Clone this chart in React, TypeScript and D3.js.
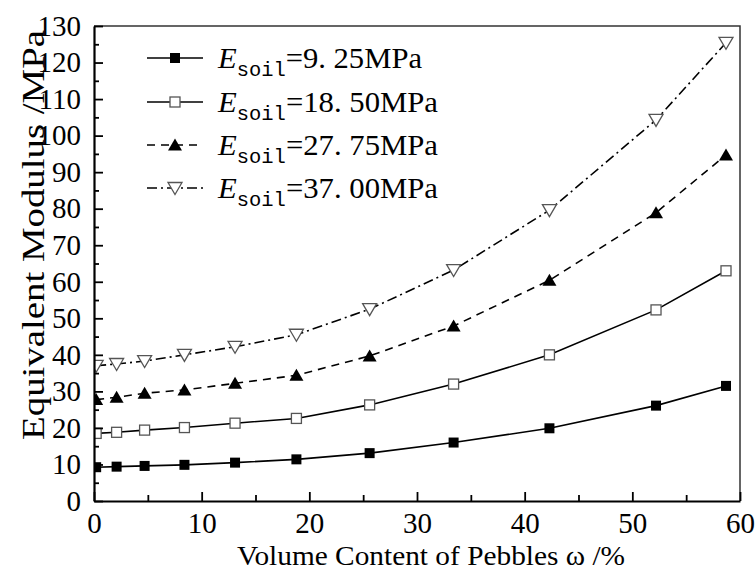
import React, { useRef, useEffect } from "react";
import * as d3 from "d3";

// volume content of pebbles (%)
const omega = [0.2, 2.1, 4.7, 8.4, 13.1, 18.8, 25.6, 33.4, 42.3, 52.2, 58.7];
// equivalent modulus (MPa) per soil modulus
const e925 = [9.25, 9.4, 9.6, 9.9, 10.5, 11.4, 13.1, 16.0, 19.9, 26.1, 31.5];
const e1850 = [18.5, 18.8, 19.4, 20.1, 21.3, 22.6, 26.3, 32.0, 40.0, 52.3, 63.0];
const e2775 = [27.75, 28.4, 29.5, 30.4, 32.2, 34.4, 39.7, 47.9, 60.4, 78.9, 94.7];
const e3700 = [37.0, 37.5, 38.3, 40.0, 42.2, 45.5, 52.5, 63.2, 79.6, 104.3, 125.4];

const legendLabels = ["=9. 25MPa", "=18. 50MPa", "=27. 75MPa", "=37. 00MPa"];
const xTicks = [0, 10, 20, 30, 40, 50, 60];
const yTicks = d3.range(0, 131, 10);

const series = [
  { values: e925, marker: "squareFilled", dash: null },
  { values: e1850, marker: "squareOpen", dash: null },
  { values: e2775, marker: "triUp", dash: "8,6" },
  { values: e3700, marker: "triDown", dash: "10,4,2,4" },
];

const FONT = "Liberation Serif, DejaVu Serif, serif";
const MONO = "Liberation Mono, DejaVu Sans Mono, monospace";

function drawMarker(g, kind, x, y) {
  if (kind === "squareFilled") {
    g.append("rect").attr("x", x - 5).attr("y", y - 5).attr("width", 10).attr("height", 10).attr("fill", "#000");
  } else if (kind === "squareOpen") {
    g.append("rect").attr("x", x - 5).attr("y", y - 5).attr("width", 10).attr("height", 10)
      .attr("fill", "#fff").attr("stroke", "#555").attr("stroke-width", 1.3);
  } else if (kind === "triUp") {
    g.append("path").attr("d", `M${x},${y - 6.5}L${x + 7},${y + 5.5}L${x - 7},${y + 5.5}Z`).attr("fill", "#000");
  } else {
    g.append("path").attr("d", `M${x - 7},${y - 5.5}L${x + 7},${y - 5.5}L${x},${y + 6.5}Z`)
      .attr("fill", "#fff").attr("stroke", "#555").attr("stroke-width", 1.3);
  }
}

const App = () => {
  const svgRef = useRef();

  useEffect(() => {
    document.body.style.margin = "0";
    const svg = d3.select(svgRef.current);
    svg.selectAll("*").remove();

    const left = 94, right = 740, top = 26, bottom = 501;
    const x = d3.scaleLinear().domain([0, 60]).range([left, right]);
    const y = d3.scaleLinear().domain([0, 130]).range([bottom, top]);

    svg.append("rect").attr("width", 756).attr("height", 572).attr("fill", "#fff");

    svg.append("defs").append("clipPath").attr("id", "plot")
      .append("rect").attr("x", left).attr("y", top).attr("width", right - left).attr("height", bottom - top);

    const plot = svg.append("g").attr("clip-path", "url(#plot)");
    const line = d3.line().x((d) => x(d[0])).y((d) => y(d[1]));

    series.forEach((s) => {
      const pts = omega.map((w, i) => [w, s.values[i]]);
      plot.append("path").attr("d", line(pts)).attr("fill", "none").attr("stroke", "#000")
        .attr("stroke-width", 1.6).attr("stroke-dasharray", s.dash);
      pts.forEach((p) => drawMarker(plot, s.marker, x(p[0]), y(p[1])));
    });

    // frame
    svg.append("path").attr("d", `M${left},${top}H${right}V${bottom}`).attr("fill", "none")
      .attr("stroke", "#333").attr("stroke-width", 1.5);

    // minor ticks
    svg.append("g").attr("transform", `translate(${left},0)`)
      .call(d3.axisLeft(y).tickValues(d3.range(5, 130, 10)).tickSize(-5).tickFormat(() => ""))
      .call((g) => g.select(".domain").remove());
    svg.append("g").attr("transform", `translate(0,${bottom})`)
      .call(d3.axisBottom(x).tickValues(d3.range(5, 60, 10)).tickSize(-6).tickFormat(() => ""))
      .call((g) => g.select(".domain").remove());

    const yAxis = svg.append("g").attr("transform", `translate(${left},0)`)
      .call(d3.axisLeft(y).tickValues(yTicks).tickSize(-9).tickSizeOuter(0).tickPadding(13));
    const xAxis = svg.append("g").attr("transform", `translate(0,${bottom})`)
      .call(d3.axisBottom(x).tickValues(xTicks).tickSize(-9).tickSizeOuter(0).tickPadding(11));

    [yAxis, xAxis].forEach((a) => {
      a.attr("font-family", null).attr("font-size", null);
      a.select(".domain").attr("stroke-width", 2.2);
      a.selectAll("text").style("font-family", FONT).style("font-size", "29px").attr("fill", "#000");
    });
    svg.selectAll(".tick line").attr("stroke-width", 1.8);

    // axis titles
    svg.append("text").attr("x", 431).attr("y", 565).attr("text-anchor", "middle")
      .attr("textLength", 388).attr("lengthAdjust", "spacingAndGlyphs")
      .style("font-family", FONT).style("font-size", "27px").text("Volume Content of Pebbles  ω  /%");
    svg.append("text").attr("transform", "translate(44,235) rotate(-90)").attr("text-anchor", "middle")
      .attr("textLength", 410).attr("lengthAdjust", "spacingAndGlyphs")
      .style("font-family", FONT).style("font-size", "31px").text("Equivalent Modulus /MPa");

    // legend
    const rowY = [58, 102, 145, 188];
    const rowW = [204, 220, 220, 220];
    series.forEach((s, i) => {
      const ly = rowY[i];
      svg.append("line").attr("x1", 147).attr("x2", 203).attr("y1", ly).attr("y2", ly)
        .attr("stroke", "#000").attr("stroke-width", 1.6).attr("stroke-dasharray", s.dash);
      drawMarker(svg, s.marker, 175, ly);
      const t = svg.append("text").attr("x", 218).attr("y", ly + 10)
        .attr("textLength", rowW[i]).attr("lengthAdjust", "spacingAndGlyphs")
        .style("font-family", FONT).style("font-size", "30px");
      t.append("tspan").attr("font-style", "italic").text("E");
      t.append("tspan").style("font-family", MONO).style("font-size", "20px").attr("dy", 8).text("soil");
      t.append("tspan").attr("dy", -8).text(legendLabels[i]);
    });
  }, []);

  return <svg ref={svgRef} width={756} height={572} style={{ display: "block" }}></svg>;
};

export default App;
